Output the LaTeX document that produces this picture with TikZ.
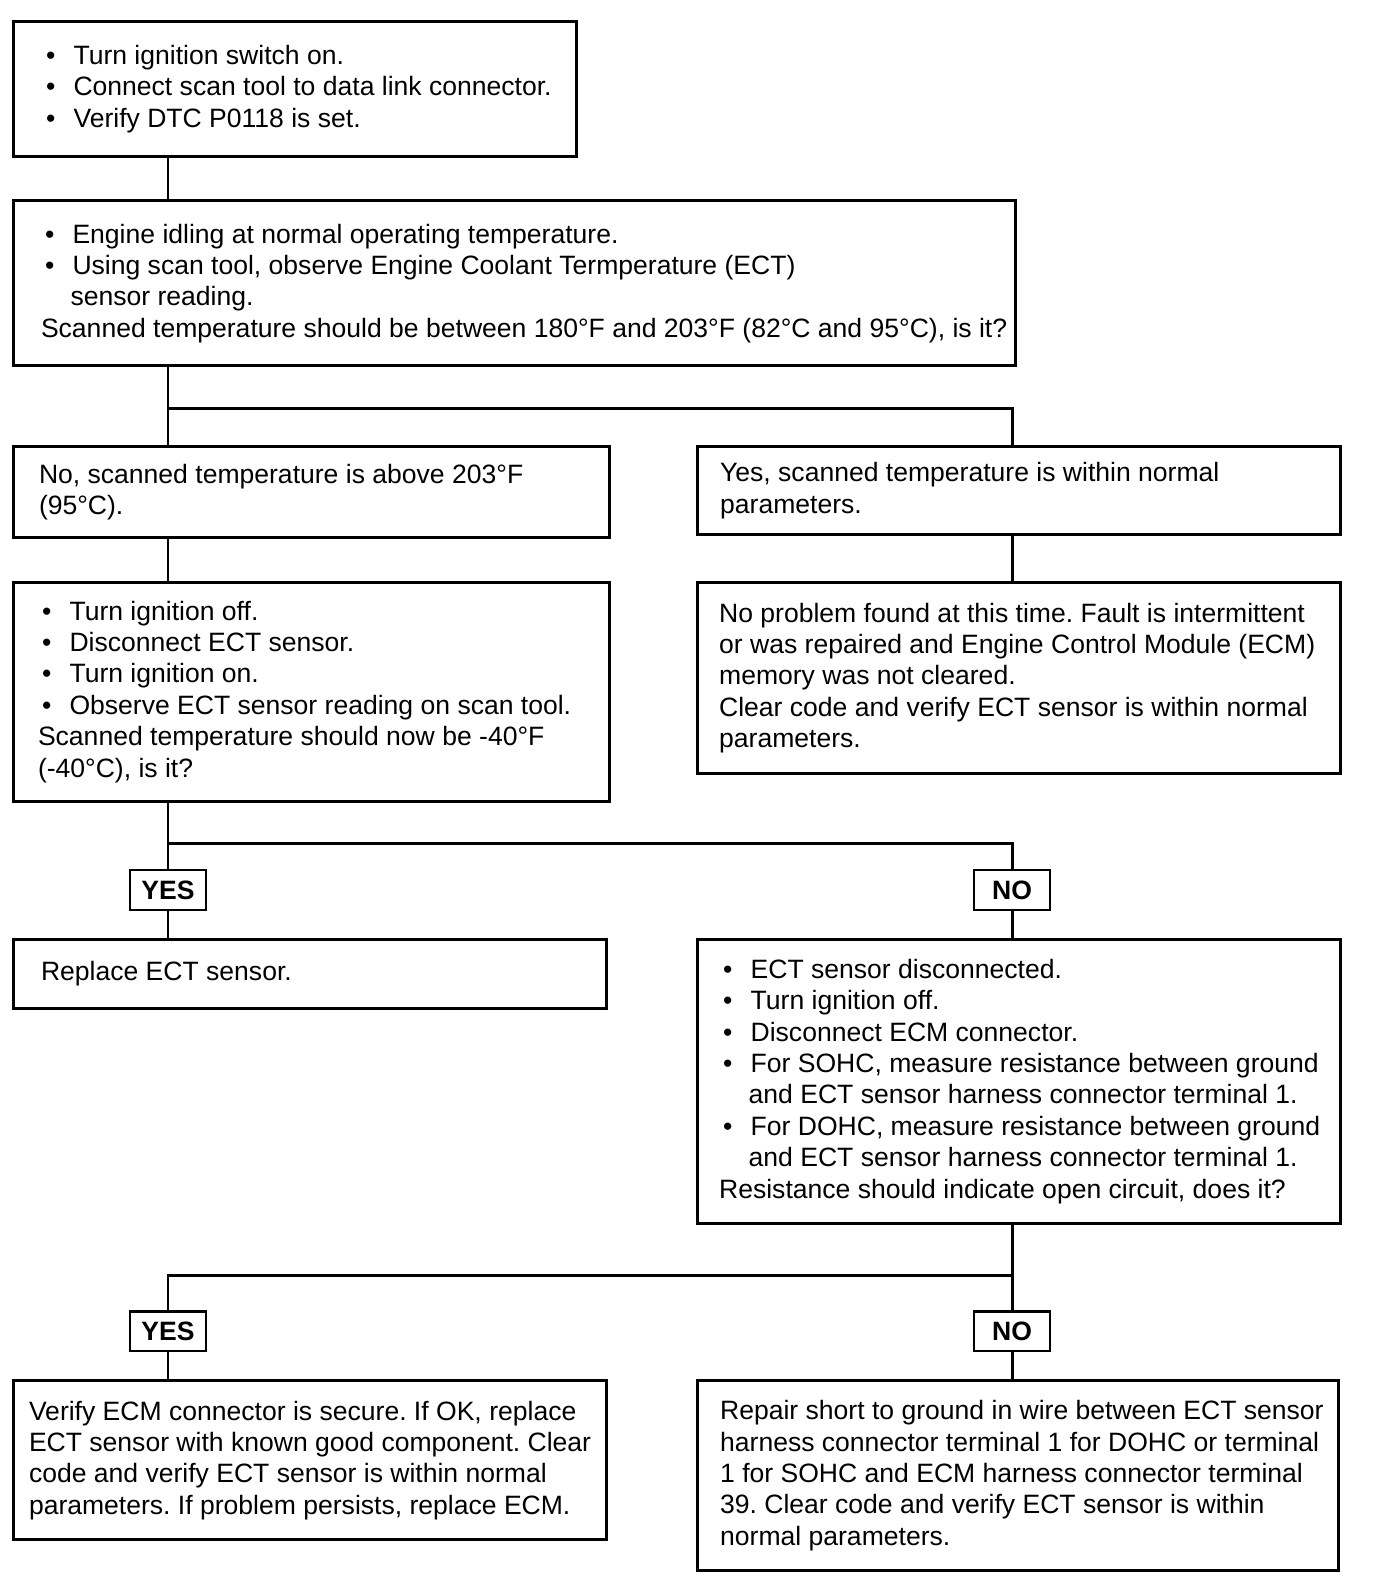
\documentclass[tikz,border=0pt]{standalone}
\usepackage{fontspec}
\setmainfont{Liberation Sans}
\usetikzlibrary{positioning}
\frenchspacing

\newcommand{\bul}{\hspace*{0.08cm}\makebox[0.55cm][l]{\textbullet}}
\newcommand{\cont}{\hspace*{0.59cm}}

\tikzset{
  stepbox/.style={draw,line width=1.7pt,anchor=north west,inner sep=0pt},
  txt/.style={align=left,inner sep=0pt,font=\fontsize{15.1}{17.85}\selectfont},
  answer/.style={draw,line width=1.3pt,minimum width=1.52cm,minimum height=0.79cm,inner sep=0pt,font=\fontsize{15.1}{17.85}\selectfont\bfseries},
  wire/.style={line width=1.7pt}
}

\begin{document}
\begin{tikzpicture}[x=0.02024cm,y=-0.02024cm]
\useasboundingbox[fill=white] (0,0) rectangle (1359.6,1569.1);

% frames of the steps
\foreach \n/\x/\y/\w/\h in {1/12/20/556/133, 2/12/197/990/163, 3/12/440/589/90, 4/688/440/635/87,
  5/12/574/589/216, 6/688/574/635/189, 7/12/927/586/68, 8/688/927/635/280,
  9/12/1363/586/157, 10/688/1363/633/187}
  \node[stepbox,minimum width=\w*0.02024cm,minimum height=\h*0.02024cm] (N\n) at (\x,\y) {};

% texts
\node[txt,right=0.59cm of N1.west] (T1) {\bul Turn ignition switch on.\\
  \bul Connect scan tool to data link connector.\\
  \bul Verify DTC P0118 is set.};
\node[txt,right=0.57cm of N2.west] (T2) {\bul Engine idling at normal operating temperature.\\
  \bul Using scan tool, observe Engine Coolant Termperature (ECT)\\
  \cont sensor reading.\\
  Scanned temperature should be between 180°F and 203°F (82°C and 95°C), is it?};
\node[txt,right=0.53cm of N3.west] (T3) {No, scanned temperature is above 203°F\\(95°C).};
\node[txt,right=0.47cm of N4.west] (T4) {Yes, scanned temperature is within normal\\parameters.};
\node[txt,right=0.51cm of N5.west] (T5) {\bul Turn ignition off.\\
  \bul Disconnect ECT sensor.\\
  \bul Turn ignition on.\\
  \bul Observe ECT sensor reading on scan tool.\\
  Scanned temperature should now be -40°F\\
  (-40°C), is it?};
\node[txt,right=0.45cm of N6.west] (T6) {No problem found at this time. Fault is intermittent\\
  or was repaired and Engine Control Module (ECM)\\
  memory was not cleared.\\
  Clear code and verify ECT sensor is within normal\\
  parameters.};
\node[txt,right=0.57cm of N7.west] (T7) {Replace ECT sensor.};
\node[txt,right=0.45cm of N8.west] (T8) {\bul ECT sensor disconnected.\\
  \bul Turn ignition off.\\
  \bul Disconnect ECM connector.\\
  \bul For SOHC, measure resistance between ground\\
  \cont and ECT sensor harness connector terminal 1.\\
  \bul For DOHC, measure resistance between ground\\
  \cont and ECT sensor harness connector terminal 1.\\
  Resistance should indicate open circuit, does it?};
\node[txt,right=0.33cm of N9.west] (T9) {Verify ECM connector is secure. If OK, replace\\
  ECT sensor with known good component. Clear\\
  code and verify ECT sensor is within normal\\
  parameters. If problem persists, replace ECM.};
\node[txt,right=0.47cm of N10.west] (T10) {Repair short to ground in wire between ECT sensor\\
  harness connector terminal 1 for DOHC or terminal\\
  1 for SOHC and ECM harness connector terminal\\
  39. Clear code and verify ECT sensor is within\\
  normal parameters.};

% answers
\node[answer] (Y1) at (166,879.5) {YES};
\node[answer] (X1) at (1000,879.5) {NO};
\node[answer] (Y2) at (166,1315.5) {YES};
\node[answer] (X2) at (1000,1315.5) {NO};

% connectors
\coordinate (L) at (166,0);
\coordinate (R) at (1000,0);
\coordinate (J1) at (166,404);
\coordinate (J2) at (166,833);
\coordinate (J3) at (1000,1260);
\draw[wire] (N1.south -| L) -- (N2.north -| L);
\draw[wire] (N2.south -| L) -- (N3.north -| L);
\draw[wire] (J1) -| (N4.north -| R);
\draw[wire] (N3.south -| L) -- (N5.north -| L);
\draw[wire] (N4.south -| R) -- (N6.north -| R);
\draw[wire] (N5.south -| L) -- (Y1.north);
\draw[wire] (J2) -| (X1.north);
\draw[wire] (Y1.south) -- (N7.north -| Y1);
\draw[wire] (X1.south) -- (N8.north -| X1);
\draw[wire] (N8.south -| R) -- (X2.north);
\draw[wire] (J3) -| (Y2.north);
\draw[wire] (Y2.south) -- (N9.north -| Y2);
\draw[wire] (X2.south) -- (N10.north -| X2);
\end{tikzpicture}
\end{document}
